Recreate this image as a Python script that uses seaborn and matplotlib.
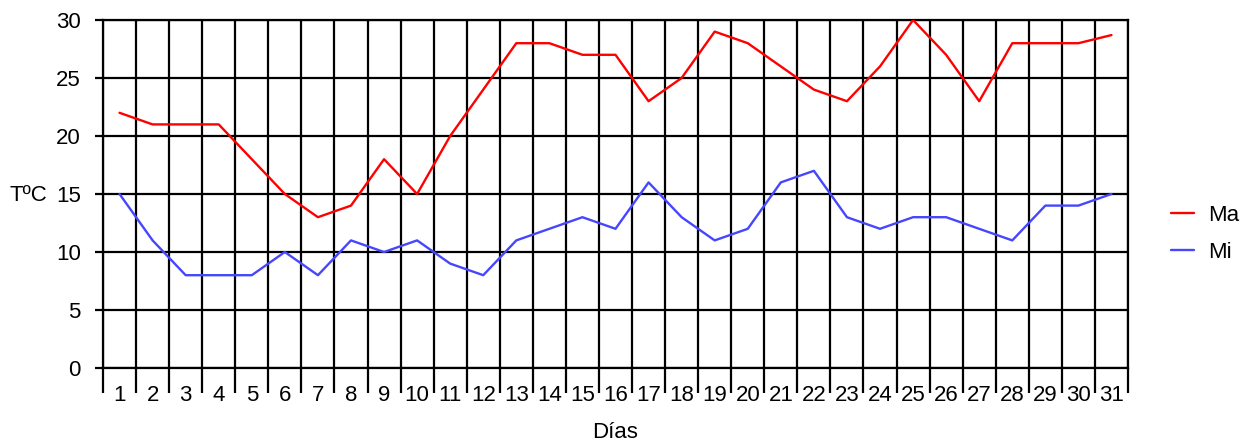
import matplotlib
matplotlib.use("Agg")
import matplotlib.pyplot as plt
from matplotlib.ticker import FixedLocator
import seaborn as sns
import pandas as pd

dias = list(range(1, 32))
maxima = [22, 21, 21, 21, 18, 15, 13, 14, 18, 15, 20, 24, 28, 28, 27, 27,
          23, 25, 29, 28, 26, 24, 23, 26, 30, 27, 23, 28, 28, 28, 28.7]
minima = [15, 11, 8, 8, 8, 10, 8, 11, 10, 11, 9, 8, 11, 12, 13, 12,
          16, 13, 11, 12, 16, 17, 13, 12, 13, 13, 12, 11, 14, 14, 15]
series = ["Ma", "Mi"]
colores = {"Ma": "#ff0000", "Mi": "#4646ff"}

df = pd.DataFrame({
    "Días": dias * 2,
    "T": maxima + minima,
    "serie": [series[0]] * len(dias) + [series[1]] * len(dias),
})

sns.set_style("white")
plt.rcParams["font.family"] = ["Liberation Sans", "DejaVu Sans"]
plt.rcParams["text.color"] = "black"
plt.rcParams["xtick.color"] = "black"
plt.rcParams["ytick.color"] = "black"
plt.rcParams["axes.labelcolor"] = "black"
FS = 16

fig = plt.figure(figsize=(12.41, 4.43), dpi=100)
ax = fig.add_axes([103 / 1241, 1 - 368 / 443, 1025 / 1241, 348 / 443])

sns.lineplot(data=df, x="Días", y="T", hue="serie", palette=colores,
             linewidth=1.7, ax=ax, legend=False, zorder=3)

ax.set_xlim(0.5, 31.5)
ax.set_ylim(0, 30)
ax.set_yticks(range(0, 31, 5))
ax.set_xticks(dias)
ax.set_xticklabels([str(d) for d in dias])
ax.xaxis.set_minor_locator(FixedLocator([d + 0.5 for d in range(0, 32)]))

# category boundaries: gridlines plus long outward ticks
ax.grid(which="minor", axis="x", color="black", linewidth=1.6)
ax.grid(which="major", axis="y", color="black", linewidth=1.6)
ax.grid(which="major", axis="x", visible=False)
ax.set_axisbelow(True)

ax.tick_params(axis="x", which="major", length=0, pad=12, labelsize=FS)
ax.tick_params(axis="x", which="minor", length=18, width=1.6,
               direction="out", color="black", bottom=True)
ax.tick_params(axis="y", which="major", length=6, width=1.6,
               direction="out", color="black", pad=10, labelsize=FS, left=True)

for s in ax.spines.values():
    s.set_visible(True)
    s.set_color("black")
    s.set_linewidth(1.6)

ax.set_xlabel("Días", fontsize=FS, va="center")
ax.xaxis.set_label_coords(0.5, -0.184)
ax.set_ylabel("TºC", fontsize=FS, rotation=0, ha="center", va="center")
ax.yaxis.set_label_coords(-0.073, 0.497)

handles = [plt.Line2D([], [], color=colores[s], linewidth=1.7) for s in series]
fig.legend(handles, series, loc="upper left",
           bbox_to_anchor=(1171 / 1241, 1 - 205 / 443),
           frameon=False, fontsize=FS, handlelength=1.04, handletextpad=0.63,
           labelspacing=0.73, borderpad=0, borderaxespad=0)

fig.savefig("out.png", dpi=100)
